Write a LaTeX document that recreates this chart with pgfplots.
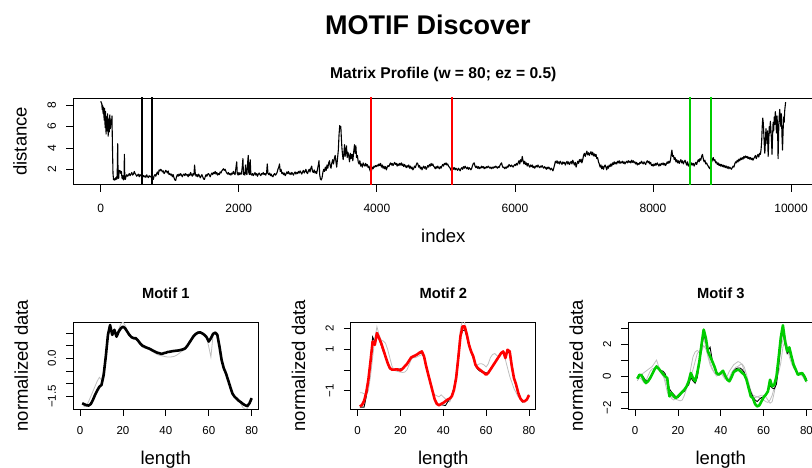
\documentclass[border=0pt]{standalone}
\usepackage{pgfplots}
\usepackage{pgfplotstable}
\pgfplotsset{compat=1.18}
\usepackage{fontspec}
\setmainfont{Liberation Sans}
\definecolor{rred}{HTML}{FF0000}
\definecolor{rgreen}{HTML}{00CD00}
\definecolor{rgray}{HTML}{BEBEBE}
\pgfplotsset{
  rbase/.style={
    scale only axis, anchor=south west,
    axis line style={line width=0.75pt},
    tick align=outside, major tick length=7pt,
    every tick/.style={black, line width=0.75pt},
    xtick pos=left, ytick pos=left,
    minor tick num=0,
    scaled x ticks=false, scaled y ticks=false,
    xticklabel style={anchor=north, inner sep=0pt},
    yticklabel style={rotate=90, anchor=south, inner sep=0pt},
  },
}
\pgfplotstableread{
x y
1 8.38
8 8.25
15 8.15
22 7.6
28 8.0
35 7.2
42 7.8
50 6.6
57 7.7
64 5.9
71 7.4
78 5.3
85 6.9
92 5.6
100 7.2
108 5.1
116 6.7
124 5.5
132 7.1
140 5.8
148 6.6
156 6.2
163 7.0
170 4.2
178 1.6
186 1.02
195 1.1
204 0.98
213 1.2
222 1.05
230 1.3
238 1.1
246 4.4
252 1.2
260 1.15
268 1.9
276 1.75
284 1.85
292 1.6
300 1.8
308 1.2
316 1.1
324 1.4
332 1.0
338 1.1
343 3.4
349 1.2
357 1.05
366 1.3
378 1.5
390 1.35
402 1.45
414 1.6
426 1.4
438 1.55
450 1.7
462 1.45
474 1.55
486 1.8
498 1.6
510 1.5
522 1.35
534 1.45
546 1.55
558 1.3
570 1.5
582 1.4
594 1.35
606 1.3
618 1.42
630 1.28
642 1.38
654 1.25
666 1.48
678 1.32
690 1.22
702 1.4
714 1.3
726 1.35
738 1.15
750 1.3
762 1.05
774 1.4
786 1.5
798 1.35
810 1.6
822 1.75
834 1.5
846 1.95
858 1.85
870 2.0
882 1.9
894 1.75
906 1.85
918 1.6
930 1.7
942 1.9
954 1.8
966 1.65
978 1.85
990 1.5
1002 1.6
1014 1.45
1026 1.55
1038 1.3
1050 1.5
1062 1.2
1074 1.0
1086 0.95
1098 1.3
1110 1.5
1122 1.35
1134 1.55
1146 1.4
1158 1.6
1170 1.45
1182 1.3
1194 1.5
1206 1.55
1218 1.4
1230 1.6
1242 1.45
1254 1.5
1266 1.3
1278 1.55
1290 1.4
1302 1.7
1314 1.5
1326 1.35
1338 1.6
1350 1.45
1360 2.4
1370 1.6
1382 1.35
1394 1.5
1406 1.3
1418 1.55
1430 1.4
1442 1.2
1454 1.35
1466 1.5
1478 1.3
1490 1.1
1502 1.05
1514 1.3
1526 1.5
1538 1.35
1550 1.55
1562 1.6
1574 1.45
1586 1.3
1598 1.5
1610 1.65
1622 1.5
1634 1.7
1646 1.6
1658 1.8
1670 1.55
1682 1.7
1694 1.45
1706 1.6
1718 1.5
1730 1.75
1742 1.65
1754 1.85
1766 1.95
1778 2.05
1790 1.9
1802 2.0
1814 1.8
1826 1.65
1838 1.55
1850 1.7
1862 1.5
1874 1.6
1886 1.45
1898 1.65
1910 1.55
1922 1.8
1934 1.6
1946 1.5
1958 2.1
1970 2.7
1978 1.6
1990 1.45
2002 1.7
2014 1.5
2026 1.65
2038 1.55
2050 2.2
2060 3.0
2068 1.5
2078 1.7
2088 1.45
2098 2.4
2108 1.6
2118 1.5
2128 2.6
2137 3.3
2145 1.7
2155 1.5
2165 2.9
2175 1.55
2187 1.45
2199 1.6
2211 1.4
2223 1.55
2235 1.7
2247 1.45
2259 1.6
2271 1.35
2283 1.55
2295 1.65
2307 1.5
2319 1.4
2331 1.6
2343 1.55
2355 1.7
2367 1.5
2379 1.6
2391 1.45
2403 1.7
2413 2.5
2423 1.6
2435 1.5
2447 1.65
2459 1.4
2471 1.55
2483 1.35
2495 1.3
2507 1.5
2519 1.6
2531 1.45
2543 1.55
2555 1.7
2567 2.0
2579 2.2
2590 2.5
2600 1.8
2612 2.0
2624 1.6
2636 1.7
2648 1.5
2660 1.65
2672 1.4
2684 1.55
2696 1.75
2708 1.6
2720 1.8
2732 1.55
2744 1.65
2756 1.5
2768 1.7
2780 1.6
2792 1.45
2804 1.65
2816 1.75
2828 1.55
2840 1.7
2852 1.6
2864 1.8
2876 1.65
2888 1.85
2900 1.7
2912 1.55
2924 1.75
2936 1.9
2948 1.65
2960 1.8
2972 2.0
2984 1.7
2996 1.6
3008 1.85
3020 2.0
3032 1.75
3044 2.1
3056 2.3
3068 1.8
3080 1.7
3092 1.95
3104 1.65
3116 1.8
3128 1.6
3140 2.0
3152 2.4
3162 2.8
3172 1.5
3182 1.1
3194 1.0
3206 1.2
3218 1.7
3230 2.0
3242 1.8
3254 2.2
3266 1.9
3278 2.4
3290 2.1
3302 2.6
3314 2.8
3324 2.3
3336 2.1
3348 2.6
3360 2.9
3372 2.5
3384 3.0
3396 3.3
3406 2.8
3418 2.2
3430 3.0
3442 3.8
3452 5.2
3462 6.1
3470 5.9
3478 6.0
3486 4.9
3494 4.0
3502 3.4
3512 2.9
3522 3.5
3532 4.3
3540 3.2
3550 3.7
3560 4.2
3570 3.1
3580 3.6
3592 3.3
3604 2.7
3616 3.5
3628 3.0
3640 3.4
3652 2.8
3664 3.6
3676 4.3
3686 3.5
3696 4.2
3706 3.1
3718 3.3
3730 2.7
3742 2.5
3754 2.8
3766 2.3
3778 2.5
3790 2.2
3802 2.6
3814 2.4
3826 2.3
3838 2.55
3850 2.3
3862 2.45
3874 2.15
3886 2.3
3898 1.95
3910 1.75
3922 1.9
3934 2.2
3946 2.05
3958 2.3
3970 2.2
3982 2.35
3994 2.25
4006 2.4
4018 2.3
4030 2.5
4042 2.35
4054 2.55
4066 2.2
4078 2.4
4090 2.1
4102 2.3
4114 2.05
4126 2.25
4138 1.95
4150 2.2
4162 2.35
4174 2.25
4186 2.45
4198 2.6
4210 2.4
4222 2.55
4234 2.35
4246 2.5
4258 2.65
4270 2.45
4282 2.55
4294 2.3
4306 2.5
4318 2.35
4330 2.55
4342 2.4
4354 2.6
4366 2.35
4378 2.5
4390 2.25
4402 2.45
4414 2.3
4426 2.15
4438 2.35
4450 2.2
4462 2.4
4474 2.1
4486 2.3
4498 2.05
4510 2.2
4522 1.95
4534 2.1
4546 2.3
4558 2.15
4570 2.4
4582 2.6
4594 2.5
4606 2.2
4618 2.35
4630 2.05
4642 2.2
4654 1.95
4666 2.15
4678 2.3
4690 2.1
4702 2.25
4714 2.0
4726 2.15
4738 2.35
4750 2.2
4762 2.45
4774 2.3
4786 2.55
4798 2.35
4810 2.5
4822 2.3
4834 2.2
4846 2.05
4858 2.25
4870 2.1
4882 2.3
4894 2.15
4906 2.05
4918 2.25
4930 2.1
4942 2.3
4954 2.45
4966 2.3
4978 2.55
4990 2.45
5002 2.6
5014 2.4
5026 2.5
5038 2.3
5050 2.2
5062 2.1
5074 1.9
5086 2.05
5098 2.2
5110 2.0
5122 2.15
5134 1.95
5146 2.1
5158 2.0
5170 1.9
5182 2.1
5194 2.0
5206 1.85
5218 2.05
5230 2.15
5242 2.0
5254 2.25
5266 2.1
5278 2.3
5290 2.15
5302 2.05
5314 2.2
5326 2.0
5338 2.15
5350 2.05
5362 1.95
5374 2.1
5386 2.35
5398 2.55
5410 2.6
5422 2.3
5434 2.15
5446 2.3
5458 2.1
5470 2.25
5482 2.05
5494 2.2
5506 2.1
5518 2.3
5530 2.15
5542 2.25
5554 2.05
5566 2.2
5578 2.1
5590 2.25
5602 2.15
5614 2.3
5626 2.2
5638 2.1
5650 2.2
5662 2.05
5674 2.2
5686 2.1
5698 2.25
5710 2.15
5722 2.3
5734 2.2
5746 2.1
5758 2.25
5770 2.15
5782 2.35
5794 2.5
5806 2.6
5818 2.3
5830 2.15
5842 2.2
5854 2.05
5866 2.2
5878 2.1
5890 2.3
5902 2.2
5914 2.45
5926 2.35
5938 2.25
5950 2.4
5962 2.3
5974 2.2
5986 2.35
5998 2.45
6010 2.35
6022 2.55
6034 2.4
6046 2.6
6058 2.8
6070 2.5
6082 2.9
6094 2.7
6106 3.2
6118 2.8
6130 2.5
6142 2.75
6154 2.45
6166 2.6
6178 2.3
6190 2.55
6202 2.35
6214 2.2
6226 2.4
6238 2.25
6250 2.4
6262 2.15
6274 2.3
6286 2.1
6298 2.25
6310 2.35
6322 2.2
6334 2.4
6346 2.25
6358 2.15
6370 2.3
6382 2.2
6394 2.35
6406 2.2
6418 2.1
6430 2.25
6442 2.15
6454 2.0
6466 2.2
6478 2.05
6490 2.2
6502 2.1
6514 1.95
6526 2.1
6538 2.0
6550 1.85
6562 2.1
6574 2.4
6586 2.75
6598 2.6
6610 2.8
6622 2.55
6634 2.7
6646 2.5
6658 2.75
6670 2.6
6682 2.45
6694 2.7
6706 2.55
6718 2.65
6730 2.4
6742 2.6
6754 2.75
6766 2.5
6778 2.7
6790 2.45
6802 2.6
6814 2.75
6826 2.5
6838 2.85
6850 2.6
6862 2.4
6874 2.65
6886 2.2
6898 2.5
6910 2.75
6922 2.55
6934 2.9
6946 2.7
6958 2.95
6970 2.6
6982 2.9
6994 3.3
7006 3.5
7018 3.2
7030 3.45
7042 3.7
7054 3.35
7066 3.55
7078 3.3
7090 3.5
7102 3.65
7114 3.35
7126 3.6
7138 3.25
7150 3.45
7162 3.2
7174 3.4
7186 3.0
7198 3.1
7210 2.7
7222 2.5
7234 2.2
7246 2.4
7258 2.05
7270 2.3
7282 2.0
7294 2.25
7306 2.4
7318 2.2
7330 1.95
7342 2.3
7354 2.1
7366 2.4
7378 2.25
7390 2.5
7402 2.3
7414 2.6
7426 2.45
7438 2.7
7450 2.5
7462 2.65
7474 2.5
7486 2.75
7498 2.6
7510 2.8
7522 2.55
7534 2.7
7546 2.6
7558 2.75
7570 2.55
7582 2.7
7594 2.5
7606 2.65
7618 2.75
7630 2.6
7642 2.8
7654 2.65
7666 2.75
7678 2.6
7690 2.85
7702 2.65
7714 2.8
7726 2.6
7738 2.7
7750 2.5
7762 2.65
7774 2.4
7786 2.55
7798 2.45
7810 2.65
7822 2.55
7834 2.75
7846 2.6
7858 2.5
7870 2.7
7882 2.55
7894 2.45
7906 2.7
7918 2.8
7930 2.6
7942 2.75
7954 2.5
7966 2.65
7978 2.35
7990 2.45
8002 2.3
8014 2.5
8026 2.35
8038 2.55
8050 2.4
8062 2.6
8074 2.45
8086 2.3
8098 2.5
8110 2.35
8122 2.55
8134 2.45
8146 2.6
8158 2.4
8170 2.55
8182 2.35
8194 2.5
8206 2.7
8218 2.55
8230 2.75
8242 2.6
8254 2.9
8266 3.5
8274 3.8
8284 3.2
8296 3.3
8308 2.9
8320 3.1
8332 2.7
8344 2.9
8356 2.6
8368 2.8
8380 2.55
8392 2.75
8404 2.9
8416 2.6
8428 2.8
8440 2.5
8452 2.7
8464 2.85
8476 2.6
8488 2.4
8500 2.7
8512 2.3
8524 2.5
8536 2.15
8548 2.4
8560 2.6
8572 2.4
8584 2.55
8596 2.3
8608 2.5
8620 2.65
8632 2.45
8644 2.7
8656 2.9
8668 2.7
8680 3.0
8692 2.85
8704 3.2
8716 3.4
8728 3.0
8740 2.7
8752 2.85
8764 2.5
8776 2.6
8788 2.4
8800 2.3
8812 2.15
8824 2.05
8836 2.4
8848 2.65
8860 2.9
8872 3.1
8884 2.8
8896 2.9
8908 2.6
8920 2.7
8932 2.45
8944 2.6
8956 2.35
8968 2.5
8980 2.3
8992 2.45
9004 2.25
9016 2.4
9028 2.2
9040 2.35
9052 2.15
9064 2.3
9076 2.1
9088 2.25
9100 2.05
9112 2.2
9124 2.1
9136 2.0
9148 2.15
9160 2.3
9172 2.2
9184 2.5
9196 2.7
9208 2.6
9220 2.85
9232 2.7
9244 2.95
9256 2.8
9268 3.05
9280 2.9
9292 3.1
9304 2.95
9316 3.2
9328 3.05
9340 3.25
9352 3.1
9364 3.2
9376 3.0
9388 3.15
9400 2.95
9412 3.1
9424 2.9
9436 3.05
9448 2.85
9460 3.0
9472 3.15
9484 3.3
9496 3.0
9508 3.2
9520 3.4
9532 3.15
9544 3.5
9556 3.4
9566 3.9
9574 4.6
9582 6.0
9590 6.8
9598 6.3
9606 5.2
9614 4.0
9620 3.5
9628 4.6
9636 5.8
9644 5.2
9652 4.4
9660 5.6
9668 3.2
9676 4.4
9684 6.0
9692 5.4
9700 6.5
9708 5.7
9716 4.8
9724 3.4
9732 5.1
9740 6.4
9748 5.6
9756 6.9
9764 6.2
9772 7.4
9780 6.6
9788 5.4
9796 7.0
9804 6.1
9812 3.0
9820 5.5
9828 6.9
9836 7.6
9844 6.8
9852 6.0
9860 7.2
9868 5.2
9876 3.8
9884 5.5
9892 6.9
9900 6.4
9908 7.5
9916 8.0
9921 8.3
}\mp
\pgfplotstableread{
i g m
1 -1.80 -1.77
2 -1.90 -1.81
3 -1.85 -1.85
4 -1.70 -1.86
5 -1.50 -1.80
6 -1.30 -1.64
7 -1.10 -1.44
8 -0.90 -1.27
9 -0.75 -1.12
10 -0.85 -1.05
11 -0.50 -0.66
12 0.20 0.07
13 0.90 0.92
14 1.25 1.31
15 1.00 0.92
16 1.15 1.12
17 0.95 0.85
18 1.15 1.05
19 1.35 1.18
20 1.43 1.25
21 1.30 1.18
22 1.10 1.05
23 0.95 0.92
24 0.85 0.83
25 0.80 0.79
26 0.75 0.79
27 0.65 0.70
28 0.55 0.59
29 0.45 0.50
30 0.40 0.46
31 0.38 0.42
32 0.35 0.39
33 0.30 0.35
34 0.25 0.30
35 0.20 0.26
36 0.15 0.22
37 0.12 0.20
38 0.10 0.17
39 0.08 0.20
40 0.06 0.22
41 0.05 0.25
42 0.05 0.26
43 0.06 0.28
44 0.08 0.29
45 0.12 0.30
46 0.18 0.31
47 0.25 0.33
48 0.30 0.35
49 0.38 0.39
50 0.50 0.49
51 0.65 0.62
52 0.80 0.75
53 0.92 0.88
54 1.00 0.96
55 1.05 1.01
56 1.05 1.02
57 1.00 0.98
58 0.95 0.92
59 0.80 0.83
60 0.45 0.66
61 0.05 0.79
62 0.90 0.96
63 1.05 1.01
64 1.00 0.92
65 0.60 0.46
66 0.05 -0.07
67 -0.35 -0.39
68 -0.60 -0.59
69 -0.85 -0.85
70 -1.10 -1.12
71 -1.35 -1.38
72 -1.50 -1.51
73 -1.60 -1.59
74 -1.70 -1.67
75 -1.80 -1.73
76 -1.95 -1.80
77 -2.00 -1.85
78 -1.98 -1.88
79 -1.80 -1.77
80 -1.55 -1.57
}\pone
\pgfplotstableread{
i g b r
1 -1.10 -1.80 -1.76
2 -1.10 -1.80 -1.70
3 -1.15 -1.80 -1.50
4 -1.20 -1.30 -1.10
5 -1.00 -0.60 -0.47
6 -0.30 0.50 0.42
7 0.60 1.60 1.38
8 1.50 1.35 1.22
9 2.10 1.70 1.79
10 1.70 1.50 1.55
11 1.45 1.20 1.30
12 1.40 0.90 0.98
13 1.30 0.60 0.66
14 1.00 0.30 0.34
15 0.60 0.05 0.10
16 0.20 0.00 0.02
17 0.00 0.02 0.02
18 -0.05 0.05 0.03
19 -0.08 0.05 0.02
20 -0.10 0.05 -0.02
21 -0.12 0.10 0.06
22 -0.10 0.20 0.18
23 0.00 0.30 0.29
24 0.25 0.45 0.45
25 0.50 0.60 0.61
26 0.60 0.65 0.66
27 0.60 0.70 0.71
28 0.65 0.75 0.77
29 0.70 0.80 0.85
30 0.75 0.85 0.90
31 0.70 0.60 0.66
32 0.30 0.15 0.18
33 -0.20 -0.25 -0.23
34 -0.70 -0.65 -0.63
35 -1.10 -1.05 -1.03
36 -1.20 -1.45 -1.43
37 -1.25 -1.65 -1.64
38 -1.30 -1.72 -1.71
39 -1.20 -1.68 -1.64
40 -1.30 -1.70 -1.59
41 -1.40 -1.72 -1.51
42 -1.50 -1.55 -1.43
43 -1.55 -1.40 -1.38
44 -1.30 -1.20 -1.27
45 -0.80 -0.85 -0.95
46 -0.10 -0.30 -0.39
47 0.90 0.70 0.58
48 2.00 1.60 1.63
49 2.40 1.90 2.11
50 2.30 1.95 2.11
51 1.60 1.60 1.71
52 1.10 1.15 1.22
53 0.80 0.85 0.90
54 0.55 0.60 0.66
55 0.30 0.20 0.26
56 0.25 0.05 0.10
57 0.30 -0.05 0.02
58 0.30 -0.10 -0.06
59 0.25 -0.10 -0.14
60 0.15 -0.15 -0.23
61 0.30 -0.10 -0.14
62 0.60 0.05 0.02
63 0.75 0.20 0.18
64 0.80 0.35 0.34
65 0.70 0.50 0.50
66 0.65 0.65 0.66
67 0.85 0.80 0.82
68 0.80 0.85 0.90
69 0.50 0.65 0.58
70 0.10 0.90 0.98
71 -0.30 0.80 0.90
72 -0.60 0.10 0.18
73 -0.90 -0.40 -0.39
74 -1.10 -0.75 -0.71
75 -1.30 -1.15 -1.11
76 -1.40 -1.40 -1.38
77 -1.50 -1.55 -1.51
78 -1.55 -1.50 -1.51
79 -1.45 -1.40 -1.43
80 -1.20 -1.20 -1.22
}\ptwo
\pgfplotstableread{
i g h b m
1 -0.30 -0.20 -0.10 -0.17
2 -0.10 -0.10 0.05 0.08
3 0.10 -0.20 0.10 0.04
4 0.20 -0.40 -0.10 -0.23
5 0.30 -0.30 -0.30 -0.44
6 0.40 0.00 -0.30 -0.33
7 0.50 0.30 -0.10 -0.13
8 0.60 0.45 0.15 0.13
9 0.80 0.50 0.40 0.40
10 1.00 0.55 0.55 0.60
11 0.60 0.40 0.45 0.46
12 0.30 0.20 0.35 0.29
13 0.10 0.00 0.30 0.13
14 -0.40 -0.20 0.15 -0.02
15 -1.00 -0.60 -0.30 -0.13
16 -1.30 -1.10 -0.80 -1.27
17 -1.30 -1.40 -1.00 -1.06
18 -1.35 -1.50 -1.15 -1.27
19 -1.45 -1.40 -1.30 -1.38
20 -1.50 -1.20 -1.35 -1.27
21 -1.55 -1.05 -1.20 -1.13
22 -1.50 -0.90 -1.00 -1.00
23 -1.20 -0.80 -0.95 -0.85
24 -0.80 -0.60 -0.70 -0.65
25 -0.20 -0.40 -0.55 -0.33
26 0.50 0.00 -0.10 0.19
27 1.20 0.40 -0.30 -0.13
28 1.50 0.90 -0.45 -0.33
29 1.60 1.40 -0.10 0.19
30 1.50 1.55 0.80 0.92
31 2.00 1.50 1.70 1.96
32 2.40 1.90 2.60 2.90
33 1.80 1.70 2.20 2.38
34 1.20 1.30 1.60 1.54
35 0.70 0.90 1.80 1.23
36 0.40 0.50 1.00 0.92
37 0.20 0.20 0.60 0.60
38 0.10 0.00 0.25 0.19
39 0.10 0.05 0.10 0.08
40 0.20 0.15 0.15 0.19
41 0.00 0.10 0.25 0.33
42 -0.20 -0.10 0.05 0.04
43 0.00 -0.20 -0.20 -0.23
44 0.30 -0.10 -0.25 -0.33
45 0.50 0.20 0.00 -0.08
46 0.70 0.40 0.30 0.25
47 0.80 0.55 0.45 0.33
48 0.90 0.60 0.50 0.40
49 0.85 0.70 0.50 0.33
50 0.70 0.75 0.40 0.19
51 0.30 0.55 0.20 0.08
52 -0.20 0.10 -0.20 -0.23
53 -0.70 -0.40 -0.60 -0.75
54 -1.10 -0.90 -1.00 -1.27
55 -1.30 -1.20 -1.30 -1.38
56 -1.35 -1.25 -1.50 -1.75
57 -1.30 -1.30 -1.60 -1.90
58 -1.25 -1.35 -1.45 -1.83
59 -1.20 -1.40 -1.35 -1.58
60 -1.20 -1.50 -1.30 -1.33
61 -1.30 -1.60 -1.20 -1.17
62 -1.50 -1.65 -1.00 -0.96
63 -1.70 -1.50 -0.60 -0.23
64 -1.60 -1.20 -0.75 -0.65
65 -1.00 -0.70 -0.80 -0.54
66 -0.30 -0.20 -0.50 -0.02
67 0.50 0.20 0.60 1.13
68 1.60 0.80 2.00 2.38
69 2.30 1.80 2.90 3.17
70 2.50 2.20 2.00 2.17
71 1.90 1.80 1.40 1.54
72 1.20 1.40 1.60 1.79
73 0.80 1.00 1.10 1.23
74 0.50 0.60 0.60 0.71
75 0.30 0.40 0.35 0.40
76 0.20 0.20 0.10 0.08
77 0.10 0.15 0.20 0.13
78 0.05 0.00 0.15 0.19
79 -0.20 -0.15 0.05 -0.02
80 -0.40 -0.35 -0.20 -0.33
}\pthree
\begin{document}
\begin{tikzpicture}[x=1pt,y=1pt]
\useasboundingbox (0,0) rectangle (812,468);
\clip (0,0) rectangle (812,468);
% top panel
\begin{axis}[rbase, at={(73.3pt,283.3pt)}, width=740pt, height=86.7pt,
  xmin=-397, xmax=10322, ymin=0.557, ymax=8.68,
  xtick={0,2000,4000,6000,8000,10000},
  xticklabels={0,2000,4000,6000,8000,10000},
  ytick={2,4,6,8}, yticklabels={2,4,6,8},
  ticklabel style={font=\fontsize{12}{14}\selectfont},
  xticklabel shift=12pt, yticklabel shift=10pt]
\addplot[black, line width=1.1pt, line join=round] table[x=x,y=y] {\mp};
\addplot[black, line width=2pt] coordinates {(600,0) (600,9)};
\addplot[black, line width=2pt] coordinates {(750,0) (750,9)};
\addplot[rred, line width=2pt] coordinates {(3917,0) (3917,9)};
\addplot[rred, line width=2pt] coordinates {(5084,0) (5084,9)};
\addplot[rgreen, line width=2pt] coordinates {(8540,0) (8540,9)};
\addplot[rgreen, line width=2pt] coordinates {(8835,0) (8835,9)};
\end{axis}
% motif 1
\begin{axis}[rbase, at={(73.3pt,59pt)}, width=185pt, height=86.7pt,
  xmin=-3.15, xmax=83.1, ymin=-1.996, ymax=1.417,
  xtick={0,20,40,60,80}, xticklabels={0,20,40,60,80},
  ytick={-1.5,-1,-0.5,0,0.5,1}, yticklabels={−1.5,,,0.0,,},
  ticklabel style={font=\fontsize{11.5}{13}\selectfont},
  xticklabel shift=10pt, yticklabel shift=10pt]
\addplot[rgray, line width=0.8pt] table[x=i,y=g] {\pone};
\addplot[black, line width=2.6pt, line join=round] table[x=i,y=m] {\pone};
\end{axis}
% motif 2
\begin{axis}[rbase, at={(350.8pt,59pt)}, width=185pt, height=86.7pt,
  xmin=-3.2, xmax=83.2, ymin=-1.887, ymax=2.31,
  xtick={0,20,40,60,80}, xticklabels={0,20,40,60,80},
  ytick={-1,0,1,2}, yticklabels={−1,,1,2},
  ticklabel style={font=\fontsize{11.5}{13}\selectfont},
  xticklabel shift=10pt, yticklabel shift=10pt]
\addplot[rgray, line width=0.8pt] table[x=i,y=g] {\ptwo};
\addplot[black, line width=0.9pt] table[x=i,y=b] {\ptwo};
\addplot[rred, line width=2.6pt, line join=round] table[x=i,y=r] {\ptwo};
\end{axis}
% motif 3
\begin{axis}[rbase, at={(628.3pt,59pt)}, width=185pt, height=86.7pt,
  xmin=-3.2, xmax=83.2, ymin=-2.06, ymax=3.356,
  xtick={0,20,40,60,80}, xticklabels={0,20,40,60,80},
  ytick={-2,-1,0,1,2,3}, yticklabels={−2,,0,,2,},
  ticklabel style={font=\fontsize{11.5}{13}\selectfont},
  xticklabel shift=10pt, yticklabel shift=10pt]
\addplot[rgray, line width=0.8pt] table[x=i,y=g] {\pthree};
\addplot[rgray, line width=0.8pt] table[x=i,y=h] {\pthree};
\addplot[black, line width=0.9pt] table[x=i,y=b] {\pthree};
\addplot[rgreen, line width=2.6pt, line join=round] table[x=i,y=m] {\pthree};
\end{axis}
% texts
\node[font=\fontsize{27}{27}\selectfont\bfseries, anchor=base, inner sep=0pt] at (428,433) {MOTIF Discover};
\node[font=\fontsize{15.6}{16}\selectfont\bfseries, anchor=base, inner sep=0pt] at (443.3,389) {Matrix Profile (w = 80; ez = 0.5)};
\node[font=\fontsize{18.5}{19}\selectfont, rotate=90, anchor=base, inner sep=0pt] at (26.7,326.7) {distance};
\node[font=\fontsize{18.5}{19}\selectfont, anchor=base, inner sep=0pt] at (443.3,225.7) {index};
\foreach \cx/\lx/\t in {165.8/27.8/1, 443.3/305.2/2, 720.8/582.8/3}{
  \node[font=\fontsize{14.7}{15}\selectfont\bfseries, anchor=base, inner sep=0pt] at (\cx,169.7) {Motif \t};
  \node[font=\fontsize{18.5}{19}\selectfont, rotate=90, anchor=base, inner sep=0pt] at (\lx,102.3) {normalized data};
  \node[font=\fontsize{18.5}{19}\selectfont, anchor=base, inner sep=0pt] at (\cx,3) {length};
}
\end{tikzpicture}
\end{document}
